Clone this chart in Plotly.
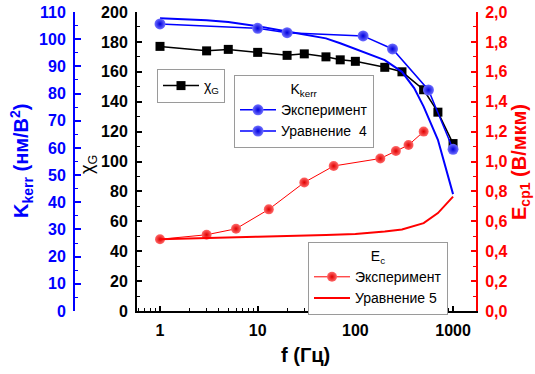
import plotly.graph_objects as go

# Frequency sweeps (Hz) and measured / modelled quantities
f_chi = [1, 3, 5, 10, 20, 30, 50, 70, 100, 200, 300, 500, 700, 1000]
chi_g = [177, 174, 175, 173, 171, 172, 170, 168, 167, 163, 160, 148, 133, 112]

f_kerr_exp = [1, 10, 20, 120, 240, 560, 1000]
kerr_exp = [105.6, 104.0, 102.4, 101.2, 96.4, 81.3, 59.5]

f_kerr_eq = [1, 3, 5, 10, 20, 30, 50, 70, 100, 200, 300, 400, 500, 700, 1000]
kerr_eq = [107.7, 107.0, 106.3, 104.8, 102.8, 101.8, 100.3, 98.5, 96.3, 92.3, 88.0, 82.0, 75.2, 63.0, 43.0]

f_ec_exp = [1, 3, 6, 13, 30, 60, 180, 260, 350, 500]
ec_exp = [0.48, 0.51, 0.55, 0.68, 0.86, 0.97, 1.02, 1.07, 1.11, 1.20]

f_ec_eq = [1, 3, 10, 50, 100, 200, 300, 500, 700, 1000]
ec_eq = [0.48, 0.49, 0.497, 0.508, 0.515, 0.532, 0.545, 0.588, 0.655, 0.765]

x_ticks = [1, 10, 100, 1000]
x_tick_text = ["1", "10", "100", "1000"]

W, H = 535, 374
L_PX, R_PX, T_PX, B_PX = 137, 476, 12, 311
FONT = "Liberation Sans, Arial, sans-serif"
BLUE = "#0000ff"
RED = "#ff0000"


def px_x(p):
    return p / W


def px_y(p):
    return (B_PX - p) / (B_PX - T_PX)


blue_marker = dict(size=11, color="#7070ff",
                   gradient=dict(type="radial", color="#0000dd"), line=dict(width=0))
red_marker = dict(size=10, color="#ff6a6a",
                  gradient=dict(type="radial", color="#e00000"), line=dict(width=0))

fig = go.Figure()

# Left black axis: chi_G
fig.add_trace(go.Scatter(
    x=f_chi, y=chi_g, mode="lines+markers", name="χ<sub>G</sub>",
    line=dict(color="black", width=1.5),
    marker=dict(symbol="square", size=9, color="black"),
    legend="legend", yaxis="y",
))

# Blue axis: K_kerr
fig.add_trace(go.Scatter(
    x=f_kerr_eq, y=kerr_eq, mode="lines", showlegend=False,
    line=dict(color=BLUE, width=2), yaxis="y2",
))
fig.add_trace(go.Scatter(
    x=f_kerr_exp, y=kerr_exp, mode="lines+markers", name="Эксперимент",
    line=dict(color=BLUE, width=1.5), marker=blue_marker,
    legend="legend2", yaxis="y2",
))
fig.add_trace(go.Scatter(
    x=[None], y=[None], mode="lines+markers", name="Уравнение\u00a0 4",
    line=dict(color=BLUE, width=1.5), marker=blue_marker,
    legend="legend2", yaxis="y2",
))

# Right red axis: E_c
fig.add_trace(go.Scatter(
    x=f_ec_exp, y=ec_exp, mode="lines+markers", name="Эксперимент",
    line=dict(color=RED, width=1), marker=red_marker,
    legend="legend3", yaxis="y3",
))
fig.add_trace(go.Scatter(
    x=f_ec_eq, y=ec_eq, mode="lines", name="Уравнение 5",
    line=dict(color=RED, width=2),
    legend="legend3", yaxis="y3",
))

tick_font = dict(family=FONT, size=16, color="black", weight="bold")

minor_x = [v * d for d in (0.1, 1, 10, 100, 1000) for v in range(2, 10)]

legend_common = dict(
    xanchor="left", yanchor="top",
    bgcolor="white", bordercolor="#9a9a9a", borderwidth=1,
    font=dict(family=FONT, size=14, color="black"), itemwidth=36,
    tracegroupgap=0,
)

fig.update_layout(
    width=W, height=H,
    margin=dict(l=0, r=0, t=T_PX, b=H - B_PX, pad=0),
    paper_bgcolor="white", plot_bgcolor="white",
    separators=", ",
    font=dict(family=FONT, size=14, color="black"),
    xaxis=dict(
        type="log", domain=[px_x(L_PX), px_x(R_PX)],
        range=[-0.2355, 3.235],
        tickvals=x_ticks, ticktext=x_tick_text,
        ticks="inside", ticklen=5, tickwidth=1.5, tickcolor="black",
        minor=dict(tickvals=minor_x, ticks="inside", ticklen=3, tickwidth=1, tickcolor="black"),
        showline=True, linewidth=2, linecolor="black",
        showgrid=False, zeroline=False,
        tickfont=tick_font, ticklabelstandoff=4,
    ),
    yaxis=dict(
        range=[0, 200], dtick=20, anchor="x",
        ticks="inside", ticklen=5, tickwidth=1.5, tickcolor="black",
        minor=dict(dtick=10, ticks="inside", ticklen=3, tickwidth=1, tickcolor="black"),
        showline=True, linewidth=2, linecolor="black",
        showgrid=False, zeroline=False,
        tickfont=tick_font, ticklabelstandoff=4,
    ),
    yaxis2=dict(
        range=[0, 110], dtick=10, overlaying="y", anchor="free",
        position=px_x(74), side="left",
        ticks="inside", ticklen=6, tickwidth=1.5, tickcolor=BLUE,
        minor=dict(dtick=5, ticks="inside", ticklen=3, tickwidth=1, tickcolor=BLUE),
        showline=True, linewidth=2, linecolor=BLUE,
        showgrid=False, zeroline=False,
        tickfont=dict(family=FONT, size=16, color=BLUE, weight="bold"),
        ticklabelstandoff=4,
    ),
    yaxis3=dict(
        range=[0, 2], dtick=0.2, tickformat=".1f", overlaying="y", anchor="x",
        side="right",
        ticks="inside", ticklen=5, tickwidth=1.5, tickcolor=RED,
        minor=dict(dtick=0.1, ticks="inside", ticklen=3, tickwidth=1, tickcolor=RED),
        showline=True, linewidth=2, linecolor=RED,
        showgrid=False, zeroline=False,
        tickfont=dict(family=FONT, size=16, color=RED, weight="bold"),
        ticklabelstandoff=4,
    ),
    legend=dict(x=px_x(157), y=px_y(69), **legend_common),
    legend2=dict(
        x=px_x(234), y=px_y(75), **legend_common,
        title=dict(text="K<sub>kerr</sub>", side="top center",
                   font=dict(family=FONT, size=14, color="black")),
    ),
    legend3=dict(
        x=px_x(308), y=px_y(242), **legend_common,
        title=dict(text="E<sub>c</sub>", side="top center",
                   font=dict(family=FONT, size=14, color="black")),
    ),
    annotations=[
        dict(text="<b>K<sub>kerr</sub> (нм/В<sup>2</sup>)</b>", x=px_x(21), y=px_y(161),
             xanchor="center", yanchor="middle",
             xref="paper", yref="paper", showarrow=False, textangle=-90,
             font=dict(family=FONT, size=20, color=BLUE)),
        dict(text="χ<sub>G</sub>", x=px_x(88), y=px_y(165),
             xanchor="center", yanchor="middle",
             xref="paper", yref="paper", showarrow=False, textangle=-90,
             font=dict(family=FONT, size=18, color="black")),
        dict(text="<b>E<sub>ср1</sub> (В/мкм)</b>", x=px_x(520), y=px_y(162),
             xanchor="center", yanchor="middle",
             xref="paper", yref="paper", showarrow=False, textangle=-90,
             font=dict(family=FONT, size=20, color=RED)),
        dict(text="<b>f (Гц)</b>", x=px_x(305), y=px_y(355),
             xanchor="center", yanchor="middle",
             xref="paper", yref="paper", showarrow=False,
             font=dict(family=FONT, size=20, color="black")),
    ],
)

fig.write_html("out.html")
